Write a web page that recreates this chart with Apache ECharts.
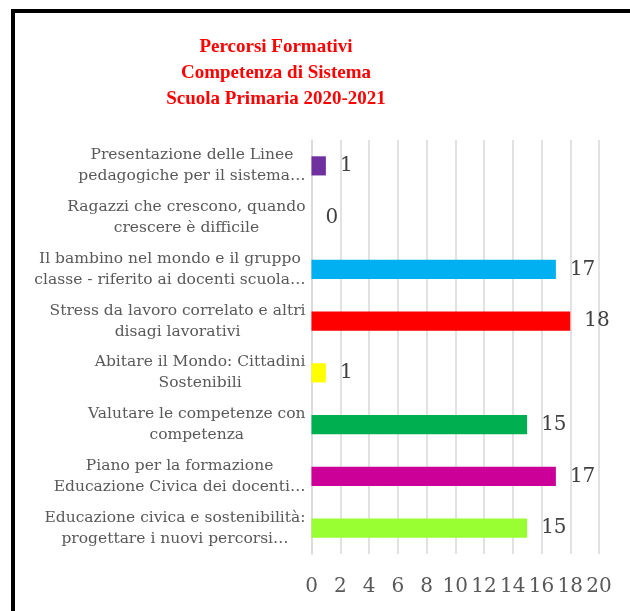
<!DOCTYPE html>
<html>
<head>
<meta charset="utf-8">
<script src="https://cdn.jsdelivr.net/npm/echarts@6/dist/echarts.min.js"></script>
<style>
html,body{margin:0;padding:0;background:#fff;}
#c{width:630px;height:611px;}
</style>
</head>
<body>
<div id="c"></div>
<script>
const titleText = 'Percorsi Formativi\nCompetenza di Sistema\nScuola Primaria 2020-2021';
const categories = [
  'Presentazione delle Linee\npedagogiche per il sistema…',
  'Ragazzi che crescono, quando\ncrescere è difficile',
  'Il bambino nel mondo e il gruppo\nclasse - riferito ai docenti scuola…',
  'Stress da lavoro correlato e altri\ndisagi lavorativi',
  'Abitare il Mondo: Cittadini\nSostenibili',
  'Valutare le competenze con\ncompetenza',
  'Piano per la formazione\nEducazione Civica dei docenti…',
  'Educazione civica e sostenibilità:\nprogettare i nuovi percorsi…'
];
const values = [1, 0, 17, 18, 1, 15, 17, 15];
const barColors = ['#7030A0', '#7F7F7F', '#00B0F0', '#FF0000', '#FFFF00', '#00B050', '#CC0099', '#99FF33'];
const axisMin = 0, axisMax = 20, axisStep = 2;

const serif = '"Liberation Serif", "DejaVu Serif", serif';
const wide = '"DejaVu Serif", serif';
const chart = echarts.init(document.getElementById('c'), null, {renderer: 'canvas'});
chart.setOption({
  animation: false,
  backgroundColor: '#fff',
  graphic: [
    {type: 'rect', shape: {x: 11, y: 9, width: 630, height: 4}, style: {fill: '#000'}},
    {type: 'rect', shape: {x: 11, y: 9, width: 4, height: 610}, style: {fill: '#000'}}
  ],
  title: {
    text: titleText,
    left: 271,
    top: 29,
    textAlign: 'center',
    textStyle: {color: '#FF0000', fontFamily: serif, fontWeight: 'bold', fontSize: 19, lineHeight: 26}
  },
  grid: {left: 311.5, right: 31, top: 140, bottom: 57, containLabel: false},
  xAxis: {
    type: 'value', min: axisMin, max: axisMax, interval: axisStep,
    axisLine: {show: false}, axisTick: {show: false},
    splitLine: {show: true, lineStyle: {color: '#D9D9D9', width: 1.5}},
    axisLabel: {color: '#595959', fontFamily: wide, fontSize: 20, margin: 23}
  },
  yAxis: {
    type: 'category', data: categories, inverse: true,
    axisLine: {show: true, lineStyle: {color: '#D9D9D9', width: 1.5}},
    axisTick: {show: false},
    axisLabel: {
      color: '#595959', fontFamily: wide, fontSize: 15.5, lineHeight: 21, margin: 6,
      formatter: v => v.split('\n').map(l => '{c|' + l + '}').join('\n'),
      rich: {c: {align: 'center', color: '#595959', fontFamily: wide, fontSize: 15.5, lineHeight: 21}}
    }
  },
  series: [{
    type: 'bar',
    data: values.map((v, i) => ({value: v, itemStyle: {color: barColors[i]}})),
    barWidth: '37%',
    label: {show: true, position: 'right', distance: 14, color: '#404040', fontFamily: wide, fontSize: 20}
  }]
});
</script>
</body>
</html>
